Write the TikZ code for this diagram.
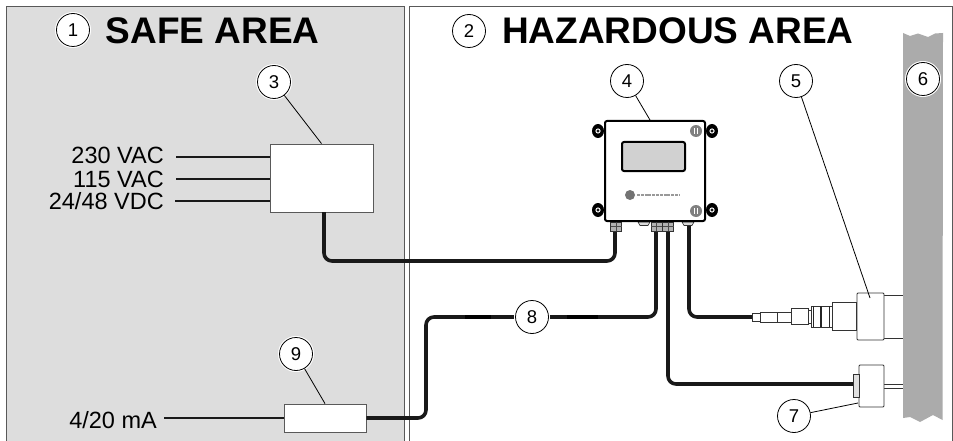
\documentclass[tikz,border=0pt]{standalone}
\usepackage{fontspec}
\setmainfont{Liberation Sans}
\tikzset{x=1pt,y=-1pt,
 cable/.style={line width=3.6pt,rounded corners=8pt,draw=black!90},
 wire/.style={line width=2.4pt,draw=black!90},
 lead/.style={line width=0.8pt},
 part/.style={line width=0.6pt,fill=white,draw=black!80},
 num/.style={circle,draw,line width=0.8pt,minimum size=33pt,inner sep=0pt,font=\fontsize{18.5}{19}\selectfont,fill=white,preaction={draw=white,line width=3pt}},
 title/.style={anchor=base west,font=\fontsize{37}{37}\selectfont\bfseries,inner sep=0pt},
 lab/.style={anchor=base east,font=\fontsize{23.5}{24}\selectfont,inner sep=0pt},
 box/.style={draw=black!65,fill=white,line width=0.8pt,inner sep=0pt}}
\definecolor{safegray}{gray}{0.865}
\definecolor{wallgray}{gray}{0.67}
\begin{document}
\begin{tikzpicture}
\useasboundingbox (0,0) rectangle (953,441);
\fill[white] (0,0) rectangle (953,441);
% panels
\draw[line width=0.9pt,draw=black!65,fill=safegray] (6.5,6) rectangle (404,445);
\draw[line width=0.9pt,draw=black!65,fill=white] (409,6) rectangle (952,445);
% wall
\fill[wallgray] (903,33) -- (910,36) -- (918,33.5) -- (928,37) -- (935,33.5) -- (943,33) -- (942.5,420) -- (933,415) -- (920,422) -- (910,417) -- (903,418) -- cycle;
% titles
\node[num] (n1) at (73,30) {1};
\node[title] (t1) at (105.5,44) {SAFE AREA};
\node[num] (n2) at (469,31) {2};
\node[title] (t2) at (502,44) {HAZARDOUS AREA};
% left boxes
\node[box,minimum width=103pt,minimum height=68pt] (b3) at (321.5,178) {};
\node[box,minimum width=82pt,minimum height=28pt] (b9) at (325,418) {};
\node[lab] (l230) at (164,164) {230 VAC};
\node[lab] (l115) at (164,187) {115 VAC};
\node[lab] (l24) at (164,209) {24/48 VDC};
\node[lab] (l420) at (157,428) {4/20 mA};
\coordinate (a1) at (176,157);
\coordinate (a2) at (176,179);
\coordinate (a3) at (175,201);
\coordinate (a4) at (164,418);
\draw[wire] (a1) -- (a1 -| b3.west);
\draw[wire] (a2) -- (a2 -| b3.west);
\draw[wire] (a3) -- (a3 -| b3.west);
\draw[wire] (a4) -- (b9.west);
% instrument glands (cable ends)
\coordinate (p3) at (324,212);
\coordinate (g1) at (615,230);
\coordinate (g2) at (656,230);
\coordinate (g3) at (668,230);
\coordinate (g4) at (689,224);
\coordinate (s5) at (752,317);
\coordinate (s7) at (853,384);
% cables
\draw[cable] (p3) -- (324,261) -- (615,261) -- (g1);
\draw[cable] (b9.east) -- (426,418) -- (426,317) -- (656,317) -- (g2);
\draw[line width=4.5pt,draw=black] (465,317) -- (491,317) (567,317) -- (598,317);
\draw[cable] (g3) -- (668,384) -- (s7);
\draw[cable] (g4) -- (689,317) -- (s5);
% box 4 ears
\foreach \x/\y in {598/131,598/210,712/131,712/210}{
 \fill[black] (\x,\y) ellipse (6pt and 7pt);
 \fill[white] (\x,\y) circle (2.6pt);
 \draw[line width=.6pt] (\x,\y) circle (1.1pt);
}
\draw[part,fill=black!15] (638,222) -- (650,222) -- (648,225.5) -- (640,225.5) -- cycle;
\draw[part,fill=black!15] (682,222) -- (694,222) -- (692,225.5) -- (684,225.5) -- cycle;
\foreach \x in {616,656.5,668}{
 \draw[part,fill=black!30] (\x-5.5,222) rectangle (\x+5.5,231);
 \draw[line width=.5pt,black!70] (\x,222) -- (\x,231) (\x-5.5,226.5) -- (\x+5.5,226.5);
}
\node[draw,fill=white,line width=2pt,rounded corners=2pt,minimum width=100pt,minimum height=100pt,inner sep=0pt] (b4) at (655,171) {};
\node[draw,fill=black!18,line width=2pt,rounded corners=2pt,minimum width=63pt,minimum height=29pt,inner sep=0pt] (disp) at (653.5,156.5) {};
\foreach \x/\y in {696/131,696/211}{
 \fill[black!50] (\x,\y) circle (6pt);
 \draw[white,line width=1pt] (\x-1.5,\y-3) -- (\x-1.5,\y+3) (\x+1.5,\y-3) -- (\x+1.5,\y+3);
}
% maker's mark: illegible in the reference, drawn as a grey strip
\fill[black!55] (630,195) circle (5pt);
\draw[black!40,line width=1.2pt,dash pattern=on 3pt off 0.8pt] (637,195) -- (680,195);
% sensor 5
\draw[part] (884,295) -- (903,295) (884,338) -- (903,338);
\draw[part] (752,313.5) rectangle (760,321);
\draw[part] (760,312) rectangle (791,322);
\draw[part] (777,312) -- (777,322);
\draw[part] (791,308) rectangle (808,324);
\draw[part] (808,310) rectangle (811,323);
\draw[part] (811,306) rectangle (832,327);
\draw[line width=1.8pt,black!85] (813.5,306) -- (813.5,327) (821,306) -- (821,327) (829.5,306) -- (829.5,327);
\draw[part] (832,302) rectangle (856,330);
\draw[part,line width=.9pt,rounded corners=1pt] (857,293) rectangle (884,340);
% sensor 7
\draw[part] (884,384) -- (903,384) (884,388.5) -- (903,388.5);
\draw[part,line width=.9pt,rounded corners=1pt] (859,365) rectangle (884,407);
\draw[part,fill=black!12] (853,374) rectangle (859,397);
% callouts
\node[num] (n3) at (274,82) {3};
\node[num] (n4) at (627,81) {4};
\node[num] (n5) at (796,81) {5};
\node[num] (n6) at (923,79) {6};
\node[num] (n7) at (794,416) {7};
\node[num] (n8) at (532,317) {8};
\node[num] (n9) at (296,354) {9};
\coordinate (e5) at (870,298);
\coordinate (e7) at (858,403);
\draw[lead] (n3) -- (b3.north);
\draw[lead] (n4) -- (650,120);
\draw[lead] (n5) -- (e5);
\draw[lead] (n7) -- (e7);
\draw[lead] (n9) -- (b9.north);
\end{tikzpicture}
\end{document}
